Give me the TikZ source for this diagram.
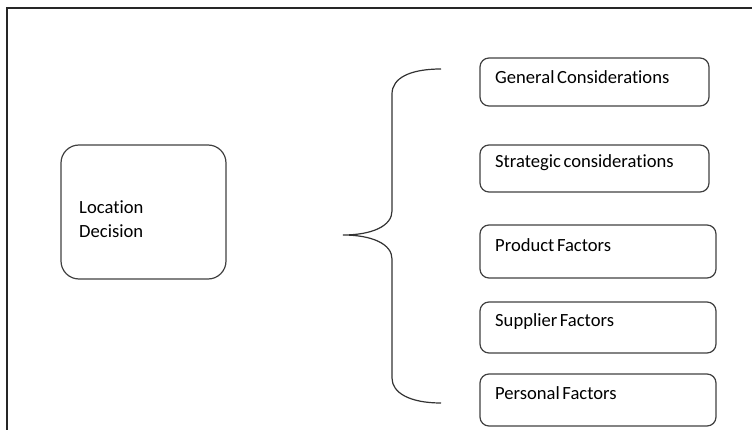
\documentclass[tikz,border=0pt]{standalone}
\usepackage{fontspec}
\setmainfont{Carlito}[Ligatures={NoCommon}]
\newcommand\mylblfont{\fontsize{18.6}{25}\selectfont\spaceskip=2.6pt\relax}
\tikzset{
  boxstyle/.style={draw=black!75, line width=1.2pt, rounded corners=9pt},
  bigbox/.style={draw=black!75, line width=1.2pt, rounded corners=18pt},
  lbl/.style={anchor=west, inner sep=0pt, font=\mylblfont, text=black},
  bracestyle/.style={draw=black!80, line width=1.2pt},
  framestyle/.style={draw=black!85, line width=1.3pt}
}
\begin{document}
\begin{tikzpicture}[x=1pt,y=-1pt]
\useasboundingbox (0,0) rectangle (752,430);
% frame
\draw[framestyle] (7,431) -- (7,8) -- (753,8);
% location box
\draw[bigbox] (61,145) rectangle (226,279);
\node[lbl] (loc1) at (79,207) {Location};
\node[lbl] (loc2) at (79,231) {Decision};
% right boxes
\draw[boxstyle] (480,58) rectangle (709,106);
\node[lbl] (gen) at (495,77) {General Considerations};
\draw[boxstyle] (480,145) rectangle (709,192);
\node[lbl] (str) at (495,163) {Strategic considerations};
\draw[boxstyle] (480,225) rectangle (716,278);
\node[lbl] (prod) at (495,245) {Product Factors};
\draw[boxstyle] (480,302) rectangle (716,353);
\node[lbl] (sup) at (495,322) {Supplier Factors};
\draw[boxstyle] (480,374) rectangle (716,426);
\node[lbl] (pers) at (495,393) {Personal Factors};
% brace
\coordinate (btop) at (441,69);
\coordinate (btip) at (343,235);
\coordinate (bbot) at (441,403);
\draw[bracestyle] (btop) .. controls (410,69) and (392,78) .. (392,94)
  -- (392,211) .. controls (392,226) and (372,235) .. (btip)
  .. controls (372,235) and (392,244) .. (392,259)
  -- (392,378) .. controls (392,393) and (410,403) .. (bbot);
\end{tikzpicture}
\end{document}
